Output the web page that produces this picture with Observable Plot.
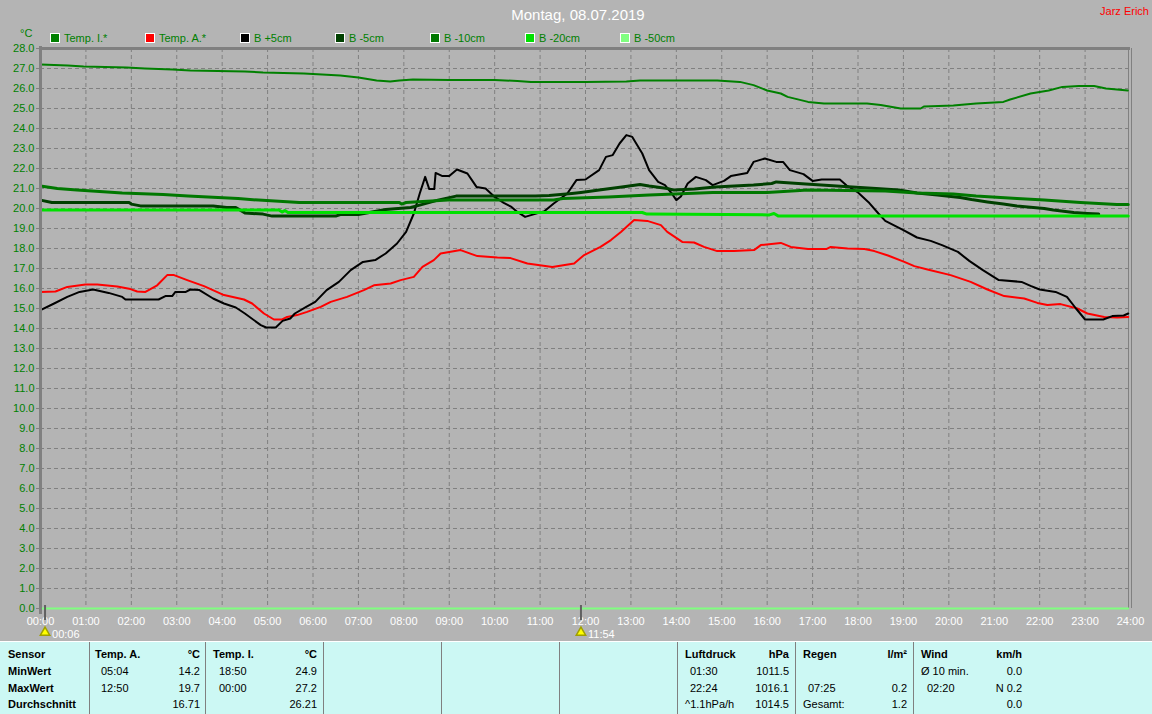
<!DOCTYPE html>
<html>
<head>
<meta charset="utf-8">
<script src="https://cdn.jsdelivr.net/npm/d3@7"></script>
<script src="https://cdn.jsdelivr.net/npm/@observablehq/plot@0.6"></script>
<style>
  html, body { margin: 0; padding: 0; background: #B4B4B4; overflow: hidden; }
  body { width: 1152px; height: 714px; font-family: "Liberation Sans", Arial, sans-serif; }
  #header { position: relative; width: 1152px; height: 40px; }
  #title { position: absolute; left: 0; width: 1156px; top: 6px; text-align: center; color: #fff; font-size: 15px; }
  #author { position: absolute; right: 3px; top: 5px; color: #ff0000; font-size: 11px; }
  #unit { position: absolute; left: 20px; top: 27px; color: #008000; font-size: 11px; }
  .leg { position: absolute; top: 32px; height: 12px; font-size: 11px; color: #008000; white-space: nowrap; }
  .leg i { position: absolute; left: 0; top: 1px; width: 8px; height: 8px; border: 1px solid #fff; }
  .leg span { position: absolute; left: 14px; top: 0; }
  #chart svg { display: block; }
  #table { position: relative; width: 1152px; height: 73px; background: #CCF8F4; border-top: 1px solid #ffffff; box-sizing: border-box; font-size: 11px; color: #000; }
  .cell { position: absolute; white-space: nowrap; }
  .b { font-weight: bold; }
  .r { text-align: right; }
  .div { position: absolute; top: 0; width: 1px; height: 73px; background: #808080; }
</style>
</head>
<body>
<div id="header">
  <div id="title">Montag, 08.07.2019</div>
  <div id="author">Jarz Erich</div>
  <div id="unit">°C</div>
  <div id="legend"></div>
</div>
<div id="chart"></div>
<div id="table"></div>
<script>
// ---- data: [hour, °C] ----
const seriesNames = ["Temp. I.*", "Temp. A.*", "B +5cm", "B -5cm", "B -10cm", "B -20cm", "B -50cm"];
const seriesColors = ["#008000", "#ff0000", "#000000", "#004000", "#007800", "#00e000", "#80ff80"];

const tempI = [[0,27.2],[0.6,27.15],[0.95,27.1],[1.9,27.05],[2.3,27.0],[2.9,26.95],[3.3,26.9],[4.5,26.85],[4.9,26.8],[5.8,26.75],[6.2,26.7],[6.6,26.65],[7.0,26.55],[7.4,26.4],[7.7,26.35],[7.9,26.4],[8.2,26.45],[9.0,26.42],[10.0,26.42],[10.5,26.38],[10.8,26.33],[12.0,26.33],[12.9,26.35],[13.2,26.4],[14.9,26.4],[15.4,26.33],[15.7,26.17],[16.0,25.9],[16.3,25.75],[16.45,25.58],[16.9,25.33],[17.25,25.25],[18.2,25.25],[18.5,25.17],[18.94,25.0],[19.38,25.0],[19.45,25.1],[20.1,25.15],[20.6,25.25],[21.2,25.33],[21.35,25.45],[21.8,25.75],[22.2,25.9],[22.5,26.08],[22.86,26.12],[23.2,26.12],[23.46,26.0],[23.94,25.9]];

const tempA = [[0,15.83],[0.33,15.85],[0.59,16.08],[0.99,16.2],[1.25,16.2],[1.69,16.1],[1.98,15.97],[2.13,15.85],[2.31,15.83],[2.57,16.16],[2.79,16.67],[2.94,16.67],[3.23,16.42],[3.6,16.12],[4.04,15.67],[4.48,15.45],[4.66,15.25],[4.92,14.75],[5.14,14.45],[5.32,14.45],[5.43,14.58],[5.65,14.67],[5.87,14.83],[6.17,15.08],[6.39,15.33],[6.75,15.58],[7.12,15.92],[7.34,16.16],[7.71,16.25],[7.93,16.42],[8.22,16.58],[8.41,17.08],[8.66,17.42],[8.81,17.75],[9.25,17.92],[9.62,17.62],[10.06,17.55],[10.35,17.52],[10.72,17.25],[11.27,17.08],[11.75,17.25],[11.97,17.67],[12.33,18.08],[12.56,18.42],[12.78,18.83],[13.07,19.42],[13.36,19.38],[13.66,19.17],[13.8,18.83],[14.13,18.33],[14.39,18.3],[14.61,18.08],[14.9,17.87],[15.27,17.87],[15.71,17.92],[15.86,18.17],[16.3,18.28],[16.52,18.08],[16.9,17.97],[17.3,17.97],[17.4,18.08],[17.77,18.0],[18.14,17.97],[18.36,17.87],[18.66,17.65],[19.02,17.33],[19.24,17.12],[19.53,16.95],[20.04,16.67],[20.48,16.33],[20.85,15.95],[21.22,15.62],[21.66,15.5],[21.95,15.28],[22.17,15.17],[22.46,15.22],[22.83,15.0],[23.05,14.75],[23.42,14.58],[23.71,14.55],[23.95,14.58]];

const b5 = [[0,14.92],[0.3,15.25],[0.59,15.58],[0.86,15.83],[1.16,15.95],[1.5,15.78],[1.8,15.58],[1.87,15.45],[2.6,15.45],[2.75,15.62],[2.9,15.62],[2.97,15.83],[3.2,15.83],[3.3,15.95],[3.5,15.92],[3.8,15.5],[4.04,15.25],[4.3,15.05],[4.5,14.75],[4.85,14.17],[4.97,14.05],[5.18,14.05],[5.33,14.38],[5.5,14.5],[5.6,14.75],[5.85,15.08],[6.05,15.33],[6.3,15.92],[6.57,16.33],[6.83,16.92],[7.1,17.33],[7.37,17.42],[7.6,17.75],[7.85,18.25],[8.05,18.83],[8.22,19.75],[8.35,20.75],[8.47,21.58],[8.56,20.97],[8.67,20.97],[8.7,21.78],[8.85,21.62],[9.0,21.62],[9.17,21.95],[9.4,21.75],[9.6,21.08],[9.8,21.0],[10.0,20.58],[10.2,20.28],[10.37,20.08],[10.5,19.83],[10.67,19.58],[10.8,19.67],[11.1,19.87],[11.3,20.25],[11.6,20.75],[11.8,21.42],[12.0,21.45],[12.3,21.92],[12.45,22.58],[12.6,22.67],[12.75,23.25],[12.9,23.67],[13.03,23.58],[13.25,22.75],[13.4,21.92],[13.6,21.33],[13.75,21.17],[13.9,20.75],[14.0,20.42],[14.1,20.6],[14.25,21.25],[14.43,21.58],[14.65,21.42],[14.8,21.17],[15.05,21.38],[15.2,21.62],[15.56,21.78],[15.7,22.33],[15.95,22.5],[16.2,22.33],[16.35,22.33],[16.5,21.92],[16.8,21.72],[17.0,21.38],[17.2,21.45],[17.6,21.45],[17.75,21.15],[18.0,20.8],[18.25,20.27],[18.45,19.75],[18.6,19.38],[19.0,18.92],[19.3,18.55],[19.6,18.38],[19.85,18.17],[20.2,17.83],[20.45,17.38],[20.75,16.92],[21.1,16.42],[21.6,16.33],[21.8,16.13],[22.0,15.95],[22.35,15.83],[22.6,15.58],[22.8,15.0],[23.0,14.45],[23.4,14.45],[23.6,14.62],[23.85,14.65],[23.95,14.75]];

const b_5 = [[0,20.42],[0.25,20.3],[1.95,20.3],[2.0,20.22],[2.2,20.13],[3.8,20.13],[4.1,20.05],[4.3,20.05],[4.5,19.78],[4.9,19.72],[5.1,19.62],[6.5,19.62],[6.6,19.7],[7.0,19.7],[7.6,19.95],[8.15,20.05],[8.35,20.17],[8.75,20.42],[9.15,20.62],[10.9,20.62],[11.2,20.65],[11.7,20.75],[11.9,20.8],[12.3,20.92],[12.8,21.08],[13.2,21.2],[13.4,21.12],[13.8,21.0],[13.95,20.92],[14.4,20.98],[14.85,21.08],[15.7,21.17],[16.1,21.25],[16.2,21.33],[16.85,21.22],[17.7,21.1],[18.4,21.0],[18.9,20.92],[19.3,20.78],[19.75,20.67],[20.25,20.55],[20.5,20.45],[20.85,20.33],[21.2,20.22],[21.5,20.12],[22.1,20.0],[22.3,19.92],[22.75,19.8],[23.05,19.75],[23.3,19.72]];

const b_10 = [[0,21.12],[0.37,21.0],[0.8,20.92],[1.8,20.78],[2.7,20.7],[3.25,20.62],[4.35,20.5],[4.8,20.42],[5.7,20.3],[7.9,20.3],[7.95,20.22],[8.05,20.3],[8.97,20.42],[11.3,20.42],[11.5,20.5],[12.5,20.58],[13.4,20.67],[14.8,20.8],[16.0,20.8],[16.9,20.92],[18.6,20.88],[19.3,20.78],[20.1,20.72],[20.6,20.62],[21.5,20.5],[22.1,20.42],[22.9,20.3],[23.7,20.2],[23.95,20.2]];

const b_20 = [[0,19.92],[5.25,19.92],[5.32,19.82],[5.38,19.9],[5.45,19.8],[13.25,19.8],[13.35,19.72],[16.05,19.68],[16.15,19.75],[16.25,19.62],[23.95,19.62]];

const b_50 = [[0,0],[23.95,0]];

const moonTimes = [0.1, 11.9];
const moonLabels = ["00:06", "11:54"];

const xTicks = d3.range(0, 25);
const yTicks = d3.range(0, 29);
const hourLabel = h => String(h).padStart(2, "0") + ":00";

// ---- legend ----
const legendX = [50, 145, 240, 335, 430, 525, 620];
const legend = document.getElementById("legend");
seriesNames.forEach((n, i) => {
  const d = document.createElement("div");
  d.className = "leg";
  d.style.left = legendX[i] + "px";
  d.innerHTML = `<i style="background:${seriesColors[i]}"></i><span>${n}</span>`;
  legend.appendChild(d);
});

// ---- chart ----
const all = [tempI, tempA, b5, b_5, b_10, b_20, b_50];
const lineMarks = all.map((s, i) => Plot.line(s, {
  x: d => d[0], y: d => d[1],
  stroke: seriesColors[i],
  strokeWidth: (i === 3 || i === 4 || i === 5) ? 3 : 2
}));

const chart = Plot.plot({
  width: 1152,
  height: 601,
  marginTop: 8,
  marginBottom: 33,
  marginLeft: 40,
  marginRight: 22,
  style: { background: "transparent", fontFamily: "Liberation Sans, Arial, sans-serif", fontSize: "11px" },
  x: { domain: [0, 24] },
  y: { domain: [0, 28] },
  marks: [
    Plot.gridY(d3.range(1, 28), { stroke: "#808080", strokeOpacity: 1, strokeDasharray: "4,3" }),
    Plot.gridX(d3.range(1, 24), { stroke: "#808080", strokeOpacity: 1, strokeDasharray: "4,3" }),
    Plot.axisY({ ticks: yTicks, tickFormat: d => d.toFixed(1), tickSize: 4, tickPadding: 2, stroke: "#808080", fill: "#008000", label: null }),
    Plot.axisX({ ticks: xTicks, tickFormat: hourLabel, tickSize: 0, tickPadding: 9, fill: "#ffffff", label: null }),
    Plot.ruleY([28], { stroke: "#808080", strokeWidth: 3 }),
    Plot.ruleX([24], { stroke: "#808080", strokeWidth: 1, dx: -2, y1: 0, y2: 28 }),
    Plot.ruleX([24], { stroke: "#808080", strokeWidth: 1, dx: 1, y1: 0, y2: 28 }),
    ...lineMarks,
    Plot.ruleX([0], { stroke: "#808080", strokeWidth: 3, y1: -0.3, y2: 28.1 }),
    Plot.ruleX(moonTimes, { stroke: "#606060", strokeWidth: 2, y1: 0.15, y2: -0.6 }),
    Plot.dot(moonTimes, { x: d => d, y: -1.2, symbol: "triangle", r: 3.5, fill: "#ffff00", stroke: "#a0a000" }),
    Plot.text(moonTimes, { x: d => d, y: -1.3, text: (d, i) => moonLabels[i], fill: "#ffffff", textAnchor: "start", dx: 7 })
  ]
});
document.getElementById("chart").appendChild(chart);

// ---- table ----
const colDividers = [89, 205, 323, 441, 559, 677, 795, 913];
const rowY = [6, 23, 40, 56];
const tableCells = [
  // [text, left, right, row, bold]
  ["Sensor", 8, null, 0, true], ["MinWert", 8, null, 1, true], ["MaxWert", 8, null, 2, true], ["Durchschnitt", 8, null, 3, true],
  ["Temp. A.", 95, null, 0, true], ["°C", null, 200, 0, true],
  ["05:04", 101, null, 1, false], ["14.2", null, 200, 1, false],
  ["12:50", 101, null, 2, false], ["19.7", null, 200, 2, false],
  ["16.71", null, 200, 3, false],
  ["Temp. I.", 213, null, 0, true], ["°C", null, 317, 0, true],
  ["18:50", 219, null, 1, false], ["24.9", null, 317, 1, false],
  ["00:00", 219, null, 2, false], ["27.2", null, 317, 2, false],
  ["26.21", null, 317, 3, false],
  ["Luftdruck", 685, null, 0, true], ["hPa", null, 789, 0, true],
  ["01:30", 690, null, 1, false], ["1011.5", null, 789, 1, false],
  ["22:24", 690, null, 2, false], ["1016.1", null, 789, 2, false],
  ["^1.1hPa/h", 685, null, 3, false], ["1014.5", null, 789, 3, false],
  ["Regen", 803, null, 0, true], ["l/m²", null, 907, 0, true],
  ["07:25", 808, null, 2, false], ["0.2", null, 907, 2, false],
  ["Gesamt:", 803, null, 3, false], ["1.2", null, 907, 3, false],
  ["Wind", 921, null, 0, true], ["km/h", null, 1022, 0, true],
  ["Ø 10 min.", 921, null, 1, false], ["0.0", null, 1022, 1, false],
  ["02:20", 927, null, 2, false], ["N 0.2", null, 1022, 2, false],
  ["0.0", null, 1022, 3, false]
];
const table = document.getElementById("table");
colDividers.forEach(x => {
  const d = document.createElement("div");
  d.className = "div";
  d.style.left = x + "px";
  table.appendChild(d);
});
tableCells.forEach(([t, l, r, row, b]) => {
  const d = document.createElement("div");
  d.className = "cell" + (b ? " b" : "");
  d.textContent = t;
  d.style.top = rowY[row] + "px";
  if (l !== null) d.style.left = l + "px";
  else d.style.right = (1152 - r) + "px";
  table.appendChild(d);
});
</script>
</body>
</html>
